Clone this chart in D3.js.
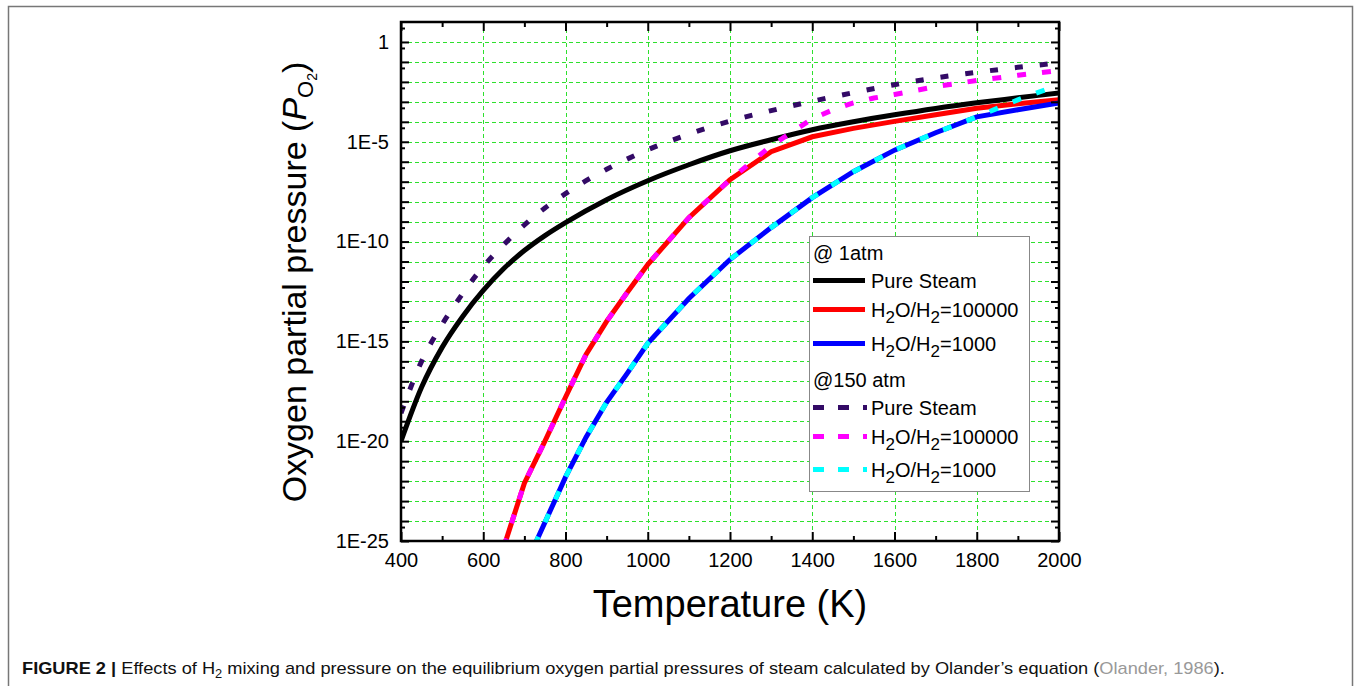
<!DOCTYPE html>
<html>
<head>
<meta charset="utf-8">
<script src="https://cdnjs.cloudflare.com/ajax/libs/d3/7.8.5/d3.min.js"></script>
<style>
  body { margin: 0; background: #fff; }
  svg { display: block; font-family: "Liberation Sans", Arial, Helvetica, sans-serif; }
</style>
</head>
<body>
<div id="chart"></div>
<script>
// values: temperature (K) and log10 of pO2

// @ 1 atm, pure steam
const tSteam1 = [400, 450, 500, 550, 600, 650, 700, 750, 800, 900, 1000, 1100, 1200, 1300, 1400, 1500, 1600, 1700, 1800, 1900, 2000];
const logSteam1 = [-20.0, -17.3, -15.3, -13.75, -12.45, -11.35, -10.45, -9.7, -9.05, -7.9, -6.95, -6.15, -5.45, -4.9, -4.4, -4.0, -3.65, -3.33, -3.05, -2.8, -2.55];

// @ 1 atm, H2O/H2 = 100000
const tRatio5a = [650, 700, 750, 800, 850, 900, 950, 1000, 1100, 1200, 1300, 1400, 1500, 1600, 1700, 1800, 1900, 2000];
const logRatio5a = [-25.3, -22.1, -20.0, -17.8, -15.65, -14.0, -12.55, -11.15, -8.8, -6.9, -5.5, -4.75, -4.33, -3.98, -3.65, -3.32, -3.1, -2.9];

// @ 1 atm, H2O/H2 = 1000
const tRatio3a = [725, 800, 850, 900, 950, 1000, 1100, 1200, 1300, 1400, 1500, 1600, 1700, 1800, 1900, 2000];
const logRatio3a = [-25.2, -21.8, -19.8, -18.05, -16.6, -15.1, -12.85, -10.9, -9.3, -7.8, -6.5, -5.42, -4.55, -3.75, -3.4, -3.05];

// @ 150 atm, pure steam
const tSteam150 = [400, 450, 500, 550, 600, 650, 700, 750, 800, 850, 900, 1000, 1100, 1200, 1300, 1400, 1500, 1600, 1700, 1800, 1900, 2000];
const logSteam150 = [-18.6, -16.0, -14.15, -12.6, -11.25, -10.15, -9.17, -8.32, -7.6, -6.95, -6.38, -5.4, -4.62, -3.96, -3.44, -2.97, -2.54, -2.14, -1.8, -1.52, -1.27, -1.05];

// @ 150 atm, H2O/H2 = 100000
const tRatio5b = [650, 700, 750, 800, 850, 900, 950, 1000, 1100, 1200, 1300, 1400, 1450, 1500, 1550, 1600, 1700, 1800, 1900, 2000];
const logRatio5b = [-25.3, -22.1, -20.0, -17.8, -15.65, -14.0, -12.55, -11.15, -8.8, -6.9, -5.2, -3.85, -3.4, -3.05, -2.81, -2.63, -2.24, -1.93, -1.67, -1.43];

// @ 150 atm, H2O/H2 = 1000
const tRatio3b = [725, 800, 850, 900, 950, 1000, 1100, 1200, 1300, 1400, 1500, 1600, 1700, 1800, 1900, 2000];
const logRatio3b = [-25.2, -21.8, -19.8, -18.05, -16.6, -15.1, -12.85, -10.9, -9.3, -7.8, -6.5, -5.42, -4.55, -3.75, -2.9, -2.15];

// axis ticks
const xMajorTicks = [400, 600, 800, 1000, 1200, 1400, 1600, 1800, 2000];
const xMinorTicks = [500, 700, 900, 1100, 1300, 1500, 1700, 1900];
const xGridTicks = [600, 800, 1000, 1200, 1400, 1600, 1800];
const yLabelExps = [0, -5, -10, -15, -20, -25];
const yTickLabels = ["1", "1E-5", "1E-10", "1E-15", "1E-20", "1E-25"];
const yDecadeExps = d3.range(-25, 1);

const W = 1356, H = 686;
const plot = { left: 401, right: 1059, top: 22, bottom: 541 };
const gridColor = "#2ee02e";

const svg = d3.select("#chart").append("svg")
  .attr("width", W)
  .attr("height", H);

// outer figure frame (open at bottom)
svg.append("path")
  .attr("d", `M8.5,${H + 2} L8.5,6.5 L1352.5,6.5 L1352.5,${H + 2}`)
  .attr("fill", "none")
  .attr("stroke", "#777")
  .attr("stroke-width", 1.5);

const x = d3.scaleLinear().domain([400, 2000]).range([plot.left, plot.right]);
const y = d3.scaleLog().domain([1e-25, 10]).range([plot.bottom, plot.top]);
const p10 = e => Math.pow(10, e);

// grid
const grid = svg.append("g")
  .attr("stroke", gridColor)
  .attr("stroke-width", 1)
  .attr("stroke-dasharray", "4,3");
grid.selectAll(".hg")
  .data(yDecadeExps.filter(e => e > -25))
  .join("line")
  .attr("x1", plot.left).attr("x2", plot.right)
  .attr("y1", d => Math.round(y(p10(d))) + 0.5)
  .attr("y2", d => Math.round(y(p10(d))) + 0.5);
grid.selectAll(".vg")
  .data(xGridTicks)
  .join("line")
  .attr("y1", plot.top).attr("y2", plot.bottom)
  .attr("x1", d => Math.round(x(d)) + 0.5)
  .attr("x2", d => Math.round(x(d)) + 0.5);

// series
svg.append("clipPath").attr("id", "clip")
  .append("rect")
  .attr("x", plot.left).attr("y", plot.top)
  .attr("width", plot.right - plot.left).attr("height", plot.bottom - plot.top);

const series = [
  { t: tSteam1, v: logSteam1, color: "#000000", dash: null, smooth: true },
  { t: tRatio5a, v: logRatio5a, color: "#ff0000", dash: null, smooth: false },
  { t: tRatio3a, v: logRatio3a, color: "#0000ff", dash: null, smooth: false },
  { t: tSteam150, v: logSteam150, color: "#330a66", dash: "8,17", smooth: true },
  { t: tRatio5b, v: logRatio5b, color: "#ff00ff", dash: "9,16", smooth: false },
  { t: tRatio3b, v: logRatio3b, color: "#00ffff", dash: "9,16", smooth: false }
];

const lines = svg.append("g").attr("clip-path", "url(#clip)");
series.forEach(s => {
  const line = d3.line()
    .x(d => x(d[0]))
    .y(d => y(p10(d[1])))
    .curve(s.smooth ? d3.curveMonotoneX : d3.curveLinear);
  lines.append("path")
    .datum(s.t.map((t, i) => [t, s.v[i]]))
    .attr("fill", "none")
    .attr("stroke", s.color)
    .attr("stroke-width", 5)
    .attr("stroke-dasharray", s.dash)
    .attr("d", line);
});

// axes (ticks point inward)
function styleAxis(g) {
  g.select(".domain").remove();
  g.selectAll(".tick line").attr("stroke", "#000").attr("stroke-width", 2);
  g.selectAll(".tick text").attr("fill", "#000").style("font-size", "20px");
}

svg.append("g")
  .attr("transform", `translate(0,${plot.bottom})`)
  .call(d3.axisBottom(x).tickValues(xMajorTicks).tickSize(-9).tickPadding(12).tickFormat(d3.format("d")))
  .call(styleAxis);
svg.append("g")
  .attr("transform", `translate(0,${plot.bottom})`)
  .call(d3.axisBottom(x).tickValues(xMinorTicks).tickSize(-5).tickFormat(""))
  .call(styleAxis);
svg.append("g")
  .attr("transform", `translate(0,${plot.top})`)
  .call(d3.axisTop(x).tickValues(xMajorTicks).tickSize(-9).tickFormat(""))
  .call(styleAxis);
svg.append("g")
  .attr("transform", `translate(0,${plot.top})`)
  .call(d3.axisTop(x).tickValues(xMinorTicks).tickSize(-5).tickFormat(""))
  .call(styleAxis);

const yMajor = yDecadeExps.map(p10);
const yMinor = yDecadeExps.map(e => 5 * p10(e));
const yLabel = d => {
  const e = Math.round(Math.log10(d));
  const i = yLabelExps.indexOf(e);
  return i >= 0 ? yTickLabels[i] : "";
};

svg.append("g")
  .attr("transform", `translate(${plot.left},0)`)
  .call(d3.axisLeft(y).tickValues(yMajor).tickSize(-8).tickPadding(12).tickFormat(yLabel))
  .call(styleAxis);
svg.append("g")
  .attr("transform", `translate(${plot.left},0)`)
  .call(d3.axisLeft(y).tickValues(yMinor).tickSize(-4).tickFormat(""))
  .call(styleAxis);
svg.append("g")
  .attr("transform", `translate(${plot.right},0)`)
  .call(d3.axisRight(y).tickValues(yMajor).tickSize(-8).tickFormat(""))
  .call(styleAxis);
svg.append("g")
  .attr("transform", `translate(${plot.right},0)`)
  .call(d3.axisRight(y).tickValues(yMinor).tickSize(-4).tickFormat(""))
  .call(styleAxis);

// frame
svg.append("rect")
  .attr("x", plot.left).attr("y", plot.top)
  .attr("width", plot.right - plot.left).attr("height", plot.bottom - plot.top)
  .attr("fill", "none")
  .attr("stroke", "#000")
  .attr("stroke-width", 2.5);

// axis titles
svg.append("text")
  .attr("x", (plot.left + plot.right) / 2)
  .attr("y", 617)
  .attr("text-anchor", "middle")
  .style("font-size", "38px")
  .text("Temperature (K)");

const yTitle = svg.append("text")
  .attr("transform", "translate(306,282) rotate(-90)")
  .attr("text-anchor", "middle")
  .style("font-size", "34px");
yTitle.append("tspan").text("Oxygen partial pressure (");
yTitle.append("tspan").attr("font-style", "italic").text("P");
yTitle.append("tspan").attr("dy", 7).style("font-size", "22px").text("O");
yTitle.append("tspan").attr("dy", 4).style("font-size", "14px").text("2");
yTitle.append("tspan").attr("dy", -11).text(")");

// legend
const legendNames = ["Pure Steam", "H2O/H2=100000", "H2O/H2=1000"];
const legendGroups = ["@ 1atm", "@150 atm"];

const lg = svg.append("g");
lg.append("rect")
  .attr("x", 809.5).attr("y", 236.5)
  .attr("width", 220).attr("height", 255)
  .attr("fill", "#fff")
  .attr("stroke", "#888")
  .attr("stroke-width", 1);

function labelText(g, name, xPos, yPos) {
  const t = g.append("text").attr("x", xPos).attr("y", yPos).style("font-size", "20px");
  if (name.startsWith("H2O")) {
    t.append("tspan").text("H");
    t.append("tspan").attr("dy", 6).style("font-size", "17px").text("2");
    t.append("tspan").attr("dy", -6).text("O/H");
    t.append("tspan").attr("dy", 6).style("font-size", "17px").text("2");
    t.append("tspan").attr("dy", -6).text(name.slice(6));
  } else {
    t.text(name);
  }
}

const headerY = [260, 387];
const rowY = [[288, 317, 351], [415, 444, 477]];
legendGroups.forEach((grp, gi) => {
  lg.append("text").attr("x", 813).attr("y", headerY[gi]).style("font-size", "20px").text(grp);
  legendNames.forEach((name, ni) => {
    const s = series[gi * 3 + ni];
    const yy = rowY[gi][ni];
    lg.append("line")
      .attr("x1", 813).attr("x2", gi === 0 ? 865 : 867)
      .attr("y1", yy - 7.5).attr("y2", yy - 7.5)
      .attr("stroke", s.color)
      .attr("stroke-width", 5)
      .attr("stroke-dasharray", gi === 0 ? null : "11,14");
    labelText(lg, name, 871, yy);
  });
});

// caption
const cap = svg.append("text")
  .attr("transform", "translate(22,674)")
  .style("font-size", "17px")
  .attr("fill", "#111");
cap.append("tspan").attr("font-weight", "bold").text("FIGURE 2 | ");
cap.append("tspan").text("Effects of H");
cap.append("tspan").attr("dy", 4).style("font-size", "12px").text("2");
cap.append("tspan").attr("dy", -4).text(" mixing and pressure on the equilibrium oxygen partial pressures of steam calculated by Olander\u2019s equation (");
cap.append("tspan").attr("fill", "#999").text("Olander, 1986");
cap.append("tspan").text(").");
const capLen = cap.node().getComputedTextLength();
cap.attr("transform", `translate(22,674) scale(${1204 / capLen},1)`);
</script>
</body>
</html>
